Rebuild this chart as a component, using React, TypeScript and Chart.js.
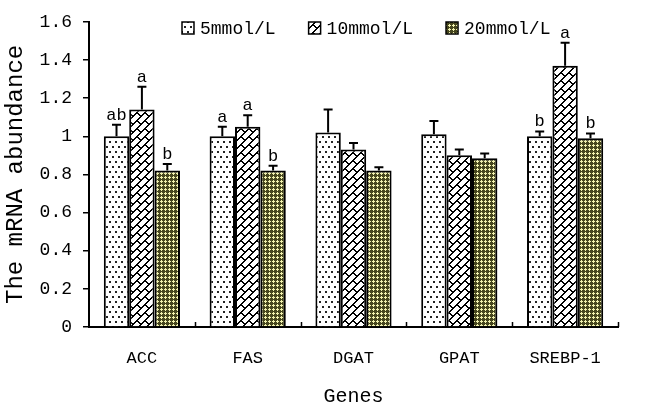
import React, { useEffect, useRef } from "react";
import { Chart, registerables } from "chart.js";

Chart.register(...registerables);

const categories = ["ACC", "FAS", "DGAT", "GPAT", "SREBP-1"];
const seriesNames = ["5mmol/L", "10mmol/L", "20mmol/L"];
const values5 = [1.0, 1.0, 1.02, 1.01, 1.0];
const values10 = [1.14, 1.05, 0.93, 0.9, 1.37];
const values20 = [0.82, 0.82, 0.82, 0.885, 0.99];
const errors5 = [0.06, 0.05, 0.12, 0.07, 0.025];
const errors10 = [0.12, 0.06, 0.035, 0.03, 0.12];
const errors20 = [0.035, 0.025, 0.018, 0.025, 0.025];
const letters5 = ["ab", "a", "", "", "b"];
const letters10 = ["a", "a", "", "", "a"];
const letters20 = ["b", "b", "", "", "b"];
const yTicksMax = 1.6;
const yTickStep = 0.2;

const FONT = "'Liberation Mono', 'DejaVu Sans Mono', monospace";

function makeTile(w: number, h: number, fn: (x: number, y: number) => string) {
  const c = document.createElement("canvas");
  c.width = w;
  c.height = h;
  const g = c.getContext("2d")!;
  for (let y = 0; y < h; y++) {
    for (let x = 0; x < w; x++) {
      g.fillStyle = fn(x, y);
      g.fillRect(x, y, 1, 1);
    }
  }
  return c;
}

function buildPatterns(ctx: CanvasRenderingContext2D) {
  const dots = makeTile(6, 10, (x, y) => {
    if ((x === 1 || x === 2) && (y === 1 || y === 2)) return "#222";
    if ((x === 4 || x === 5) && (y === 6 || y === 7)) return "#222";
    return "#ffffff";
  });
  const brick = makeTile(16, 16, (x, y) => {
    const s = (x + y) % 16;
    const d = (((x - y) % 16) + 16) % 16;
    if (s === 0 || s === 1 || s === 8 || s === 9) return "#000";
    if (s < 8 && (d === 0 || d === 1)) return "#000";
    if (s >= 8 && (d === 8 || d === 9)) return "#000";
    return "#ffffff";
  });
  const cross = makeTile(4, 4, (x, y) => {
    if ((x === 1 && y <= 2) || (y === 1 && x <= 2)) return "#f2f2ae";
    return "#46461e";
  });
  return [
    ctx.createPattern(dots, "repeat")!,
    ctx.createPattern(brick, "repeat")!,
    ctx.createPattern(cross, "repeat")!,
  ];
}

const errorsAll = [errors5, errors10, errors20];
const lettersAll = [letters5, letters10, letters20];

const extrasPlugin = {
  id: "extras",
  afterDatasetsDraw(chart: any) {
    const ctx = chart.ctx as CanvasRenderingContext2D;
    const yScale = chart.scales.y;
    const xScale = chart.scales.x;
    ctx.save();
    chart.data.datasets.forEach((ds: any, di: number) => {
      const meta = chart.getDatasetMeta(di);
      meta.data.forEach((el: any, i: number) => {
        const v = ds.data[i];
        const top = yScale.getPixelForValue(v + errorsAll[di][i]);
        ctx.strokeStyle = "#000";
        ctx.lineWidth = 2;
        ctx.beginPath();
        ctx.moveTo(el.x, el.y);
        ctx.lineTo(el.x, top);
        ctx.moveTo(el.x - 4.5, top);
        ctx.lineTo(el.x + 4.5, top);
        ctx.stroke();
        const t = lettersAll[di][i];
        if (t) {
          ctx.fillStyle = "#000";
          ctx.font = `17px ${FONT}`;
          ctx.textAlign = "center";
          ctx.textBaseline = "alphabetic";
          ctx.fillText(t, el.x, top - 5);
        }
      });
    });
    const n = categories.length;
    const step = (xScale.right - xScale.left) / n;
    ctx.strokeStyle = "#000";
    ctx.lineWidth = 1.5;
    ctx.beginPath();
    for (let i = 1; i <= n; i++) {
      const px = Math.round(xScale.left + i * step) + 0.5;
      ctx.moveTo(px, yScale.bottom);
      ctx.lineTo(px, yScale.bottom - 5);
    }
    ctx.stroke();
    ctx.font = `18px ${FONT}`;
    ctx.textAlign = "left";
    ctx.textBaseline = "middle";
    let lx = 182;
    const ly = 28;
    chart.data.datasets.forEach((ds: any) => {
      ctx.fillStyle = ds.backgroundColor;
      ctx.fillRect(lx, ly - 6, 12, 12);
      ctx.strokeStyle = "#000";
      ctx.lineWidth = 1.5;
      ctx.strokeRect(lx, ly - 6, 12, 12);
      ctx.fillStyle = "#000";
      ctx.fillText(ds.label, lx + 18, ly + 1);
      lx += 18 + ctx.measureText(ds.label).width + 33;
    });
    ctx.restore();
  },
};

export default function App() {
  const ref = useRef<HTMLCanvasElement | null>(null);
  useEffect(() => {
    const canvas = ref.current!;
    const ctx = canvas.getContext("2d")!;
    const pats = buildPatterns(ctx);
    const chart = new Chart(canvas, {
      type: "bar",
      data: {
        labels: categories,
        datasets: [values5, values10, values20].map((d, i) => ({
          label: seriesNames[i],
          data: d,
          backgroundColor: pats[i] as any,
          borderColor: "#000",
          borderWidth: 2,
          barPercentage: 1.0,
          categoryPercentage: 0.72,
        })),
      },
      options: {
        animation: false,
        responsive: false,
        devicePixelRatio: 1,
        layout: { padding: { top: 13, right: 44, left: 0, bottom: 0 } },
        plugins: { legend: { display: false }, tooltip: { enabled: false } },
        scales: {
          x: {
            grid: { display: false },
            border: { display: true, color: "#000", width: 2 },
            ticks: { color: "#000", font: { family: FONT, size: 17 }, padding: 13 },
            title: {
              display: true,
              text: "Genes",
              color: "#000",
              font: { family: FONT, size: 20 },
              padding: { top: 0, bottom: 1 },
            },
            afterFit: (s: any) => {
              s.height = 83;
            },
          },
          y: {
            min: 0,
            max: yTicksMax,
            grid: { drawOnChartArea: false, drawTicks: true, tickLength: 6, color: "#000", lineWidth: 1.5 },
            border: { display: true, color: "#000", width: 2 },
            ticks: {
              stepSize: yTickStep,
              color: "#000",
              font: { family: FONT, size: 18 },
              padding: 11,
              callback: (v: any) => String(Math.round(Number(v) * 10) / 10),
            },
            title: {
              display: true,
              text: "The mRNA abundance",
              color: "#000",
              font: { family: FONT, size: 24 },
              padding: { top: 1, bottom: 0 },
            },
            afterFit: (s: any) => {
              s.width = 89;
            },
          },
        },
      },
      plugins: [extrasPlugin],
    });
    return () => chart.destroy();
  }, []);
  return (
    <div style={{ position: "absolute", left: 0, top: 0, width: 662, height: 410, background: "#fff" }}>
      <canvas ref={ref} width={662} height={410} style={{ width: 662, height: 410 }} />
    </div>
  );
}
